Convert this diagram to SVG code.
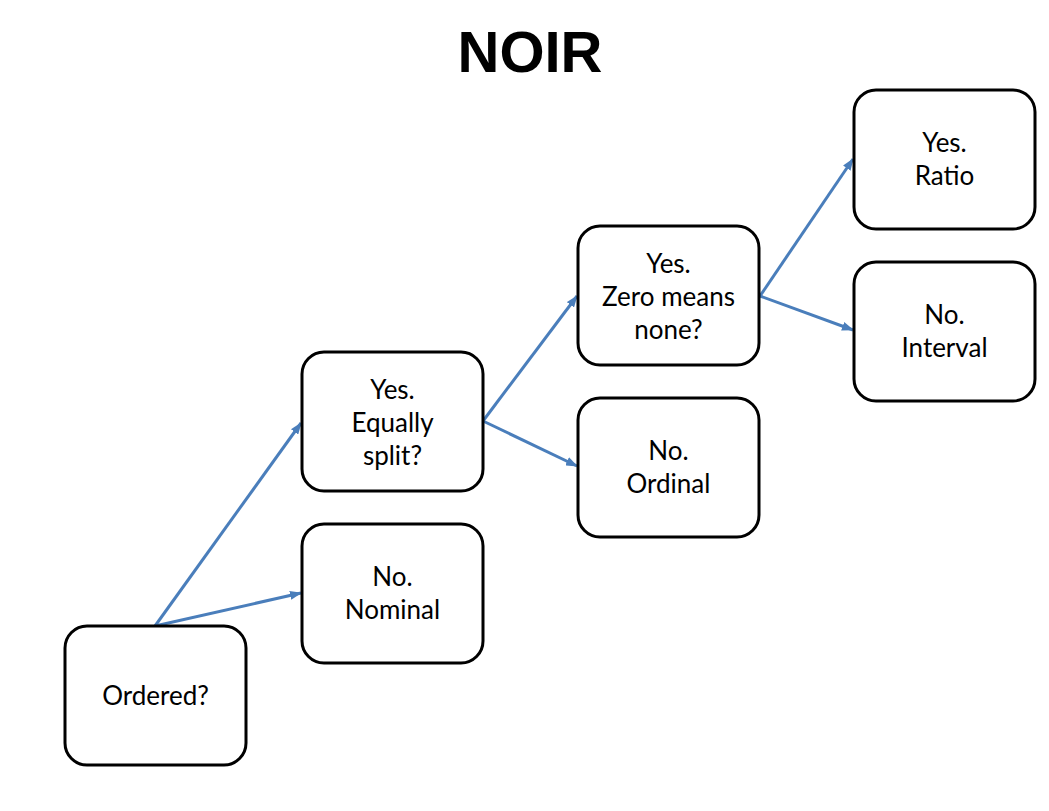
<svg xmlns="http://www.w3.org/2000/svg" width="1049" height="811" viewBox="0 0 1049 811">
<style>
.box{fill:#fff;stroke:#000;stroke-width:3}
.t{font-family:Lato,"Open Sans","Liberation Sans",sans-serif;font-size:26px;fill:#000;text-anchor:middle}
.title{font-family:"Liberation Sans",Arial,sans-serif;font-size:58px;font-weight:bold;text-anchor:middle}
.c{stroke:#4a7ebb;stroke-width:3;fill:none;marker-end:url(#ah)}
</style>
<defs>
<marker id="ah" markerWidth="12" markerHeight="9" refX="11" refY="4.5" orient="auto" markerUnits="userSpaceOnUse">
<path d="M0,0 L12,4.5 L0,9 Z" fill="#4a7ebb"/>
</marker>
</defs>
<rect width="1049" height="811" fill="#fff"/>
<text class="title" x="530" y="72">NOIR</text>
<g id="connectors">
<line class="c" x1="155" y1="626" x2="301" y2="423"/>
<line class="c" x1="155" y1="626" x2="301" y2="593"/>
<line class="c" x1="483" y1="421" x2="577" y2="296"/>
<line class="c" x1="483" y1="421" x2="577" y2="466"/>
<line class="c" x1="760" y1="296" x2="853" y2="159"/>
<line class="c" x1="760" y1="296" x2="853" y2="330"/>
</g>
<g id="ordered">
<rect class="box" x="65" y="626" width="181" height="139" rx="22"/>
<text class="t" x="155.5" y="705">Ordered?</text>
</g>
<g id="nominal">
<rect class="box" x="302" y="524" width="181" height="139" rx="22"/>
<text class="t" x="392.5" y="586">No.</text>
<text class="t" x="392.5" y="619">Nominal</text>
</g>
<g id="equally">
<rect class="box" x="302" y="352" width="181" height="139" rx="22"/>
<text class="t" x="392.5" y="399">Yes.</text>
<text class="t" x="392.5" y="432">Equally</text>
<text class="t" x="392.5" y="465">split?</text>
</g>
<g id="ordinal">
<rect class="box" x="578" y="398" width="181" height="139" rx="22"/>
<text class="t" x="668.5" y="460">No.</text>
<text class="t" x="668.5" y="493">Ordinal</text>
</g>
<g id="zero">
<rect class="box" x="578" y="226" width="181" height="139" rx="22"/>
<text class="t" x="668.5" y="273">Yes.</text>
<text class="t" x="668.5" y="306">Zero means</text>
<text class="t" x="668.5" y="339">none?</text>
</g>
<g id="ratio">
<rect class="box" x="854" y="90" width="181" height="139" rx="22"/>
<text class="t" x="944.5" y="152">Yes.</text>
<text class="t" x="944.5" y="185">Ratio</text>
</g>
<g id="interval">
<rect class="box" x="854" y="262" width="181" height="139" rx="22"/>
<text class="t" x="944.5" y="324">No.</text>
<text class="t" x="944.5" y="357">Interval</text>
</g>
</svg>
